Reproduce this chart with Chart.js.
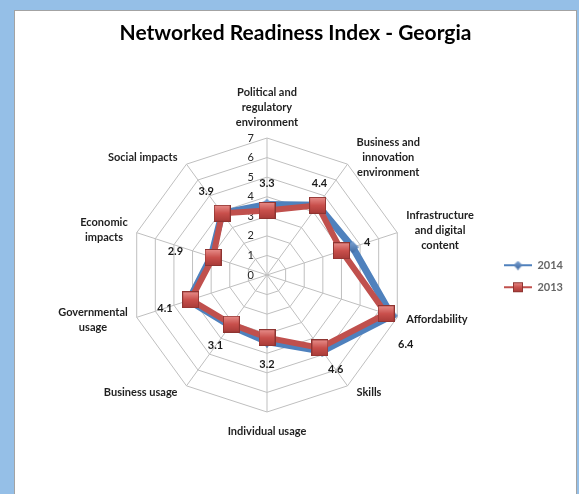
<!DOCTYPE html>
<html>
<head>
<meta charset="utf-8">
<script src="https://cdn.jsdelivr.net/npm/chart.js@4.4.1/dist/chart.umd.min.js"></script>
<style>
  html, body { margin: 0; padding: 0; width: 579px; height: 494px; overflow: hidden; background: #95bfe7; }
  #box { position: absolute; left: 14px; top: 10px; width: 561px; height: 490px; background: #fff; border: 1px solid #a3a3a3; border-bottom: none; }
  canvas { display: block; }
</style>
</head>
<body>
<div id="box"><canvas id="radar" width="561" height="483" style="width:561px;height:483px"></canvas></div>
<script>
// categories (axes of the radar)
const categories = [
  ["Political and", "regulatory", "environment"],
  ["Business and", "innovation", "environment"],
  ["Infrastructure", "and digital", "content"],
  "Affordability",
  "Skills",
  "Individual usage",
  "Business usage",
  ["Governmental", "usage"],
  ["Economic", "impacts"],
  "Social impacts"
];
const seriesNames = ["2014", "2013"];
const values2014 = [3.6, 4.4, 4.6, 6.7, 4.8, 3.4, 3.2, 4.2, 3.0, 3.9];
const values2013 = [3.3, 4.4, 4.0, 6.4, 4.6, 3.2, 3.1, 4.1, 2.9, 3.9];
const tickValues = [0, 1, 2, 3, 4, 5, 6, 7];

const FONT = "Lato, 'Open Sans', sans-serif";
const BLUE = "#4f81bd";
const RED = "#c0504d";
// small nudges for a few value labels (px)
const labelNudge = { 1: [-14, 0], 3: [-6, 22], 8: [-12, 2] };

// marker images
function redSquare(s) {
  const c = document.createElement("canvas");
  c.width = s; c.height = s;
  const g = c.getContext("2d");
  const gr = g.createLinearGradient(0, 0, 0, s);
  gr.addColorStop(0, "#e9908d");
  gr.addColorStop(0.5, "#c9504c");
  gr.addColorStop(1, "#a63a37");
  g.fillStyle = gr;
  g.fillRect(0, 0, s, s);
  g.strokeStyle = "#8e3431";
  g.lineWidth = 1;
  g.strokeRect(0.5, 0.5, s - 1, s - 1);
  return c;
}
function blueDiamond(s) {
  const c = document.createElement("canvas");
  c.width = s; c.height = s;
  const g = c.getContext("2d");
  const gr = g.createLinearGradient(0, 0, 0, s);
  gr.addColorStop(0, "#7ea3d3");
  gr.addColorStop(1, "#3b67a0");
  g.fillStyle = gr;
  g.beginPath();
  g.moveTo(s / 2, 0); g.lineTo(s, s / 2); g.lineTo(s / 2, s); g.lineTo(0, s / 2);
  g.closePath();
  g.fill();
  return c;
}
function legendSwatch(color, marker) {
  const c = document.createElement("canvas");
  c.width = 28; c.height = 14;
  const g = c.getContext("2d");
  g.strokeStyle = color;
  g.lineWidth = 2;
  g.beginPath(); g.moveTo(0, 7); g.lineTo(28, 7); g.stroke();
  g.drawImage(marker, 14 - marker.width / 2, 7 - marker.height / 2);
  return c;
}

const redMark = redSquare(17);
const blueMark = blueDiamond(12);

// center the title over the whole canvas, not over the padded area
const titleCenter = {
  id: "titleCenter",
  afterLayout(chart) {
    const t = chart.titleBlock;
    if (t) { t.left = 0; t.right = chart.width; t.width = chart.width; }
  }
};

// axis names (Excel style: centered blocks beside each vertex) and tick numbers
const axisText = {
  id: "axisText",
  beforeDatasetsDraw(chart) {
    const r = chart.scales.r;
    const ctx = chart.ctx;
    ctx.save();
    ctx.fillStyle = "#262626";
    ctx.font = "11px " + FONT;
    ctx.textAlign = "right";
    ctx.textBaseline = "middle";
    tickValues.forEach(v => {
      ctx.fillText(String(v), r.xCenter - 13, r.yCenter - r.getDistanceFromCenterForValue(v));
    });

    ctx.font = "bold 11px " + FONT;
    ctx.fillStyle = "#1f1f1f";
    ctx.textAlign = "center";
    const lh = 15;
    chart.data.labels.forEach((lab, i) => {
      const lines = Array.isArray(lab) ? lab : [lab];
      const w = Math.max(...lines.map(s => ctx.measureText(s).width));
      const h = lines.length * lh;
      const p = r.getPointPosition(i, r.drawingArea);
      const deg = (r.getIndexAngle(i) * 180 / Math.PI) % 360;
      let cx, top;
      if (deg < 1) { cx = p.x; top = p.y - 8 - h; }
      else if (Math.abs(deg - 180) < 1) { cx = p.x; top = p.y + 12; }
      else {
        const side = deg < 180 ? 1 : -1;
        cx = p.x + side * (9 + w / 2);
        top = p.y - 8 * Math.cos(deg * Math.PI / 180) - h / 2;
      }
      lines.forEach((s, k) => ctx.fillText(s, cx, top + lh * k + lh / 2));
    });
    ctx.restore();
  }
};

// value labels of the 2013 series
const valuePlugin = {
  id: "valueText",
  afterDatasetsDraw(chart) {
    const r = chart.scales.r;
    const meta = chart.getDatasetMeta(1);
    const ctx = chart.ctx;
    ctx.save();
    ctx.font = "bold 11px " + FONT;
    ctx.fillStyle = "#1a1a1a";
    ctx.textAlign = "center";
    ctx.textBaseline = "middle";
    meta.data.forEach((pt, i) => {
      const a = r.getIndexAngle(i) - Math.PI / 2;
      const n = labelNudge[i] || [0, 0];
      const x = pt.x + Math.cos(a) * 27 + n[0];
      const y = pt.y + Math.sin(a) * 27 + n[1];
      ctx.fillText(String(values2013[i]), x, y);
    });
    ctx.restore();
  }
};

new Chart(document.getElementById("radar"), {
  type: "radar",
  data: {
    labels: categories,
    datasets: [
      {
        label: seriesNames[0],
        data: values2014,
        borderColor: BLUE,
        backgroundColor: "rgba(0,0,0,0)",
        borderWidth: 7,
        pointStyle: blueMark,
        pointRadius: 6,
        order: 2
      },
      {
        label: seriesNames[1],
        data: values2013,
        borderColor: RED,
        backgroundColor: "rgba(0,0,0,0)",
        borderWidth: 6,
        pointStyle: redMark,
        pointRadius: 9,
        order: 1
      }
    ]
  },
  options: {
    responsive: false,
    animation: false,
    devicePixelRatio: 1,
    layout: { padding: { left: 27, right: 3, top: 0, bottom: 81 } },
    plugins: {
      title: {
        display: true,
        text: "Networked Readiness Index - Georgia",
        color: "#000",
        font: { family: FONT, size: 21, weight: "bold" },
        padding: { top: 10, bottom: 91 }
      },
      legend: {
        position: "right",
        title: { display: true, text: "", padding: { top: 114, bottom: 0 } },
        labels: {
          usePointStyle: true,
          pointStyleWidth: 28,
          color: "#000",
          font: { family: FONT, size: 11, weight: "bold" },
          padding: 11,
          generateLabels: () => [
            { text: seriesNames[0], pointStyle: legendSwatch(BLUE, blueDiamond(9)), datasetIndex: 0, fillStyle: BLUE, strokeStyle: BLUE, lineWidth: 0 },
            { text: seriesNames[1], pointStyle: legendSwatch(RED, redSquare(10)), datasetIndex: 1, fillStyle: RED, strokeStyle: RED, lineWidth: 0 }
          ]
        }
      },
      tooltip: { enabled: false }
    },
    scales: {
      r: {
        min: 0,
        max: 7,
        ticks: { display: false, stepSize: 1 },
        grid: { color: "#bfbfbf", lineWidth: 1 },
        angleLines: { color: "#bfbfbf", lineWidth: 1 },
        pointLabels: { display: false }
      }
    }
  },
  plugins: [titleCenter, axisText, valuePlugin]
});
</script>
</body>
</html>
